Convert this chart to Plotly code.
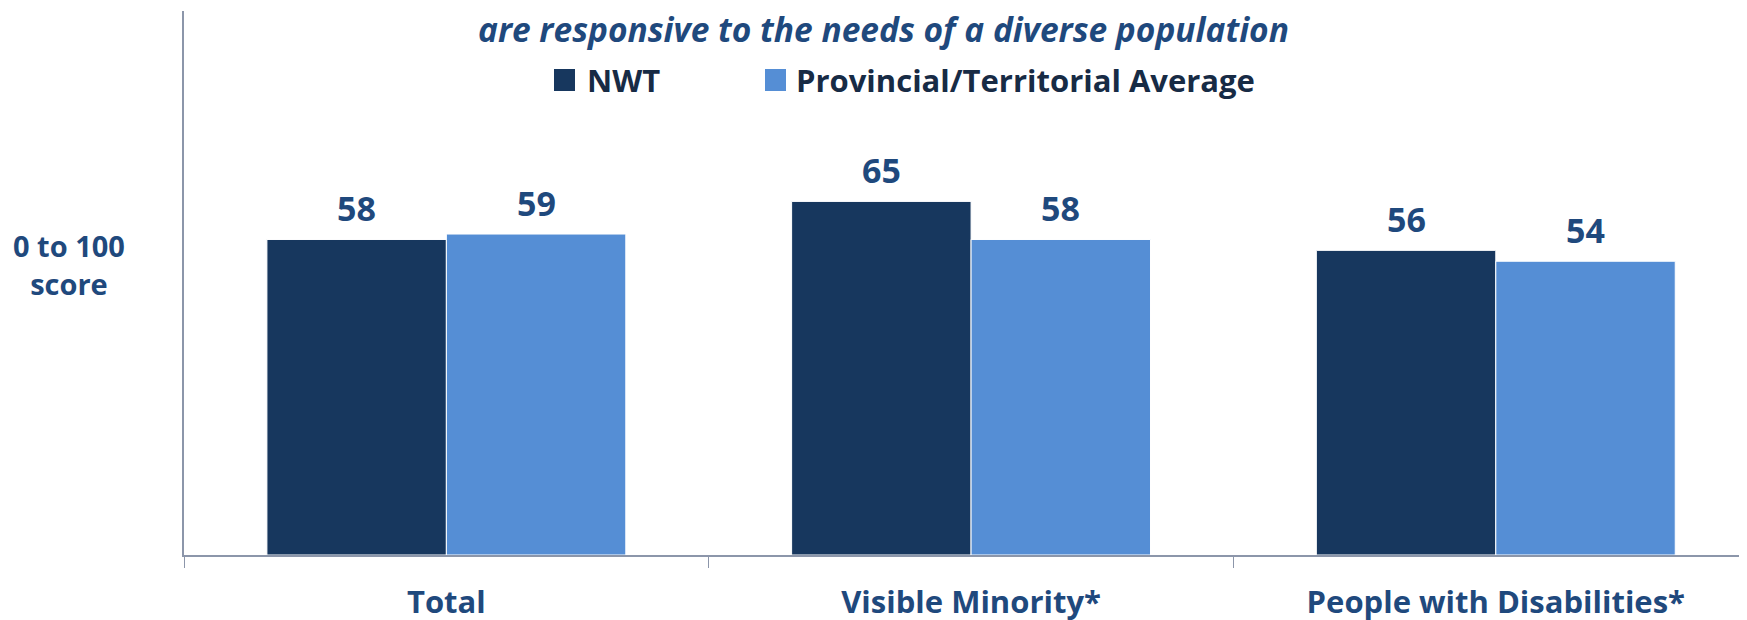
import plotly.graph_objects as go

# data
categories = ['Total', 'Visible Minority*', 'People with Disabilities*']
nwt = [58, 65, 56]
prov_avg = [59, 58, 54]
series_names = ['NWT', 'Provincial/Territorial Average']
title_text = 'are responsive to the needs of a diverse population'
y_title = '0 to 100<br>score'

# style
W, H = 1747, 620
navy = '#17375E'
blue = '#558ED5'
label_col = '#1F497D'
legend_col = '#172B45'
axis_col = '#8C96AA'
font_fam = 'Open Sans'

# the page adds an 8px body margin, so pixel targets below are in figure coords
m_l, m_r, m_t, m_b = 176, 0, 3, 73
plot_w = W - m_l - m_r
plot_h = H - m_t - m_b
bargap = 0.316
x_range = [-0.5, 2.494]
cat_px = plot_w / (x_range[1] - x_range[0])
bar_off = (1 - bargap) / 4 * cat_px


def py(px):
    # pixel row -> paper y
    return 1 - (px - m_t) / plot_h


def px_x(px):
    # pixel column -> paper x
    return (px - m_l) / plot_w


fig = go.Figure()
for name, vals, col in [(series_names[0], nwt, navy), (series_names[1], prov_avg, blue)]:
    fig.add_trace(go.Bar(
        x=categories, y=vals, name=name,
        marker=dict(color=col, line=dict(color='white', width=1)),
        showlegend=False,
    ))

annotations = []
# value labels above bars
for shift, vals in [(-bar_off, nwt), (bar_off, prov_avg)]:
    for c, v in zip(categories, vals):
        annotations.append(dict(
            x=c, y=v, xref='x', yref='y', text=str(v), showarrow=False,
            xshift=shift, yshift=31, yanchor='middle',
            font=dict(family=font_fam, size=34, color=label_col, weight='bold'),
        ))

# title (sits right at the top edge in the original)
annotations.append(dict(
    x=px_x(875), y=py(-4), xref='paper', yref='paper', text=title_text,
    showarrow=False, xanchor='center', yanchor='top',
    font=dict(family=font_fam, size=33.5, color=label_col, weight='bold', style='italic'),
))

# y axis title
annotations.append(dict(
    x=px_x(61), y=py(256), xref='paper', yref='paper', text=y_title,
    showarrow=False, xanchor='center', yanchor='middle', align='center',
    font=dict(family=font_fam, size=29, color=label_col, weight='bold'),
))

# manual legend
shapes = []
legend_items = [(546, 577, navy, series_names[0]), (757, 786, blue, series_names[1])]
for sq_x, tx_x, col, name in legend_items:
    shapes.append(dict(
        type='rect', xref='paper', yref='paper',
        x0=px_x(sq_x), x1=px_x(sq_x + 21), y0=py(83), y1=py(61),
        fillcolor=col, line=dict(width=0),
    ))
    annotations.append(dict(
        x=px_x(tx_x), y=py(72), xref='paper', yref='paper', text=name,
        showarrow=False, xanchor='left', yanchor='middle',
        font=dict(family=font_fam, size=31, color=legend_col, weight='bold'),
    ))

fig.update_layout(
    width=W, height=H,
    margin=dict(l=m_l, r=m_r, t=m_t, b=m_b, autoexpand=False),
    paper_bgcolor='white', plot_bgcolor='white',
    barmode='group', bargap=bargap, bargroupgap=0,
    showlegend=False,
    annotations=annotations, shapes=shapes,
    xaxis=dict(
        range=x_range, showline=True, linecolor=axis_col, linewidth=2,
        ticks='outside', tickson='boundaries', ticklen=11, tickcolor=axis_col, tickwidth=1,
        showgrid=False, ticklabelstandoff=19,
        tickfont=dict(family=font_fam, size=31, color=label_col, weight='bold'),
    ),
    yaxis=dict(
        range=[0, 100], showline=True, linecolor=axis_col, linewidth=1.5,
        showticklabels=False, ticks='', showgrid=False, zeroline=False,
    ),
)

fig.write_html('out.html')
